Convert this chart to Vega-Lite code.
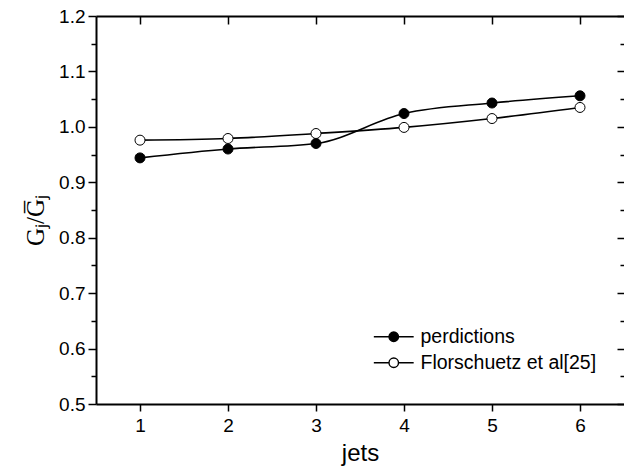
{
  "$schema": "https://vega.github.io/schema/vega-lite/v6.json",
  "width": 528,
  "height": 388,
  "autosize": {"type": "none"},
  "padding": {"left": 96, "top": 16, "right": 0, "bottom": 68},
  "background": "white",
  "config": {
    "view": {"stroke": null},
    "axis": {"labelFont": "Liberation Sans", "titleFont": "Liberation Sans", "labelColor": "black", "titleColor": "black", "domainColor": "black", "tickColor": "black", "grid": false}
  },
  "data": {
    "values": [
      {"jet": 1, "value": 0.944, "series": "perdictions"},
      {"jet": 2, "value": 0.960, "series": "perdictions"},
      {"jet": 3, "value": 0.970, "series": "perdictions"},
      {"jet": 4, "value": 1.024, "series": "perdictions"},
      {"jet": 5, "value": 1.043, "series": "perdictions"},
      {"jet": 6, "value": 1.056, "series": "perdictions"},
      {"jet": 1, "value": 0.976, "series": "Florschuetz et al[25]"},
      {"jet": 2, "value": 0.979, "series": "Florschuetz et al[25]"},
      {"jet": 3, "value": 0.988, "series": "Florschuetz et al[25]"},
      {"jet": 4, "value": 0.999, "series": "Florschuetz et al[25]"},
      {"jet": 5, "value": 1.015, "series": "Florschuetz et al[25]"},
      {"jet": 6, "value": 1.035, "series": "Florschuetz et al[25]"}
    ]
  },
  "layer": [
    {
      "mark": {"type": "line", "interpolate": "monotone", "color": "black", "strokeWidth": 1.6},
      "encoding": {
        "x": {"field": "jet", "type": "quantitative", "scale": {"domain": [0.5, 6.5], "nice": false, "zero": false},
          "axis": {"orient": "bottom", "values": [1, 2, 3, 4, 5, 6], "title": "jets", "titleFontSize": 24, "titleFontWeight": "normal", "titlePadding": 6, "labelFontSize": 19, "labelPadding": 5, "tickSize": 7, "tickWidth": 1.5, "domainWidth": 2, "format": "d", "labelFlush": false}},
        "y": {"field": "value", "type": "quantitative", "scale": {"domain": [0.5, 1.2], "nice": false, "zero": false},
          "axis": {"orient": "left", "values": [0.5, 0.55, 0.6, 0.65, 0.7, 0.75, 0.8, 0.85, 0.9, 0.95, 1.0, 1.05, 1.1, 1.15, 1.2],
            "labelExpr": "abs(datum.value*10 - round(datum.value*10)) < 0.001 ? format(datum.value, '.1f') : ''",
            "tickSize": {"condition": {"test": "abs(datum.value*10 - round(datum.value*10)) < 0.001", "value": 8}, "value": 5},
            "tickWidth": 1.5, "domainWidth": 2, "labelFontSize": 19, "labelPadding": 3, "labelFlush": false,
            "title": "Gⱼ/G̅ⱼ", "titleFont": "Liberation Serif", "titleFontSize": 25, "titleFontWeight": "normal", "titlePadding": 10, "titleY": 204}},
        "detail": {"field": "series", "type": "nominal"}
      }
    },
    {
      "mark": {"type": "point", "filled": false, "stroke": "black", "strokeWidth": 1, "size": 100, "opacity": 1},
      "encoding": {
        "x": {"field": "jet", "type": "quantitative",
          "axis": {"orient": "top", "values": [1, 2, 3, 4, 5, 6], "labels": false, "title": null, "tickSize": -8, "tickWidth": 1.5, "domainWidth": 2}},
        "y": {"field": "value", "type": "quantitative",
          "axis": {"orient": "right", "values": [0.5, 0.55, 0.6, 0.65, 0.7, 0.75, 0.8, 0.85, 0.9, 0.95, 1.0, 1.05, 1.1, 1.15, 1.2], "labels": false, "title": null, "domain": false,
            "tickSize": {"condition": {"test": "abs(datum.value*10 - round(datum.value*10)) < 0.001", "value": -7}, "value": -4}, "tickWidth": 1.5}},
        "fill": {"field": "series", "type": "nominal",
          "scale": {"domain": ["perdictions", "Florschuetz et al[25]"], "range": ["black", "white"]},
          "legend": {"orient": "none", "legendX": 288, "legendY": 311, "title": null, "padding": 0,
            "symbolType": "M -4.2 0 L -1 0 M 1 0 L 4.2 0 M -1 0 A 1 1 0 1 0 1 0 A 1 1 0 1 0 -1 0",
            "symbolSize": 90, "symbolStrokeColor": "black", "symbolStrokeWidth": 1.4, "symbolOpacity": 1,
            "labelFont": "Liberation Sans", "labelFontSize": 19.5, "labelColor": "black", "labelOffset": 17, "labelLimit": 400, "rowPadding": 5}}
      }
    }
  ],
  "resolve": {"axis": {"x": "independent", "y": "independent"}}
}
